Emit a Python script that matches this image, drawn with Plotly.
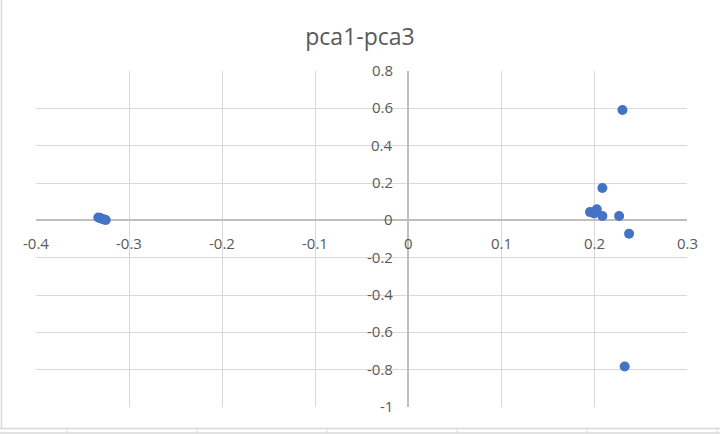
import plotly.graph_objects as go

# Data (pca1, pca3)
pca1 = [-0.333, -0.331, -0.329, -0.327, -0.325,
        0.2306, 0.209, 0.1957, 0.203, 0.200, 0.209, 0.227, 0.2377, 0.233]
pca3 = [0.015, 0.012, 0.008, 0.005, 0.002,
        0.591, 0.173, 0.044, 0.059, 0.037, 0.023, 0.023, -0.072, -0.783]

x_ticks = [-0.4, -0.3, -0.2, -0.1, 0, 0.1, 0.2, 0.3]
x_tick_labels = ["-0.4", "-0.3", "-0.2", "-0.1", "0", "0.1", "0.2", "0.3"]
y_ticks = [0.8, 0.6, 0.4, 0.2, 0, -0.2, -0.4, -0.6, -0.8, -1]
y_tick_labels = ["0.8", "0.6", "0.4", "0.2", "0", "-0.2", "-0.4", "-0.6", "-0.8", "-1"]

title_text = "pca1-pca3"

label_color = "#595959"
font_family = "Open Sans, Liberation Sans, sans-serif"

fig = go.Figure()
fig.add_trace(go.Scatter(
    x=pca1, y=pca3, mode="markers",
    marker=dict(color="#4472C4", size=10, line=dict(width=0)),
    hoverinfo="x+y", showlegend=False,
))

annotations = []
for xv, lab in zip(x_ticks, x_tick_labels):
    annotations.append(dict(x=xv, y=0, xref="x", yref="y", text=lab, showarrow=False,
                            xanchor="center", yanchor="middle", yshift=-23,
                            font=dict(family=font_family, size=15, color=label_color)))
for yv, lab in zip(y_ticks, y_tick_labels):
    annotations.append(dict(x=0, y=yv, xref="x", yref="y", text=lab, showarrow=False,
                            xanchor="right", yanchor="middle", xshift=-13, yshift=1,
                            font=dict(family=font_family, size=15, color=label_color)))

# Plot area geometry in pixels for decorative frame
L, R, T, B = 36, 33, 71, 27
W, H = 720, 434
pw, ph = W - L - R, H - T - B

def px(xp):
    return (xp - L) / pw

def py(yp):
    return (H - B - yp) / ph

border = "#d9d9d9"
shapes = [
    dict(type="line", xref="paper", yref="paper", x0=px(1.5), x1=px(1.5), y0=py(0), y1=py(428.5),
         line=dict(color=border, width=1.5)),
    dict(type="line", xref="paper", yref="paper", x0=px(0), x1=px(720), y0=py(428.5), y1=py(428.5),
         line=dict(color=border, width=1.5)),
    dict(type="line", xref="paper", yref="paper", x0=px(0), x1=px(720), y0=py(433), y1=py(433),
         line=dict(color=border, width=1.5)),
]
for cx in [67, 197, 327, 457, 587, 717]:
    shapes.append(dict(type="line", xref="paper", yref="paper", x0=px(cx), x1=px(cx),
                       y0=py(429), y1=py(434), line=dict(color=border, width=1)))

fig.update_layout(
    width=W, height=H,
    margin=dict(l=L, r=R, t=T, b=B),
    paper_bgcolor="white", plot_bgcolor="white",
    title=dict(text=title_text, x=0.5, xanchor="center", y=1 - 37 / H, yanchor="middle",
               font=dict(family=font_family, size=23, color=label_color)),
    xaxis=dict(range=[-0.4, 0.3], tickvals=x_ticks, showticklabels=False,
               showgrid=True, gridcolor="#d9d9d9", gridwidth=1,
               zeroline=True, zerolinecolor="#bfbfbf", zerolinewidth=1.5,
               showline=False, fixedrange=True),
    yaxis=dict(range=[-1, 0.8], tickvals=y_ticks, showticklabels=False,
               showgrid=True, gridcolor="#d9d9d9", gridwidth=1,
               zeroline=True, zerolinecolor="#bfbfbf", zerolinewidth=1.5,
               showline=False, fixedrange=True),
    annotations=annotations,
    shapes=shapes,
)

fig.write_html("out.html")
